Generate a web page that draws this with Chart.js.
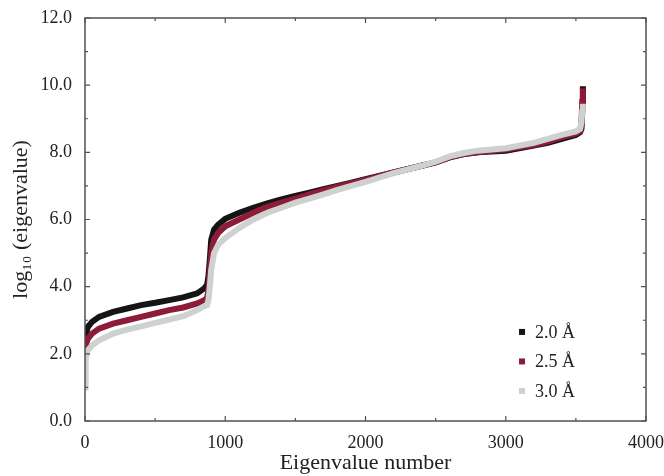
<!DOCTYPE html>
<html>
<head>
<meta charset="utf-8">
<script src="https://cdn.jsdelivr.net/npm/chart.js@4.4.1/dist/chart.umd.min.js"></script>
<style>
html, body { margin: 0; padding: 0; overflow: hidden; background: #fff; }
#wrap { width: 690px; height: 476px; }
</style>
</head>
<body>
<div id="wrap"><canvas id="my_Chart" width="690" height="476"></canvas></div>
<script>
// eigenvalue index (sampled along the sorted spectrum)
var eigIndex = [0, 5, 20, 50, 100, 200, 300, 400, 500, 600, 700, 800, 850, 870, 880, 890, 900, 920, 950,
	1000, 1100, 1200, 1300, 1400, 1500, 1600, 1700, 1800, 1900, 2000, 2200, 2400, 2500, 2600, 2700, 2800,
	3000, 3200, 3300, 3400, 3500, 3530, 3540, 3545, 3550];

// log10(eigenvalue) per resolution
var logEig20 = [2.2, 2.55, 2.8, 2.95, 3.1, 3.25, 3.35, 3.45, 3.52, 3.6, 3.68, 3.8, 3.95, 4.05, 4.3, 4.8, 5.4, 5.7, 5.85,
	6.02, 6.2, 6.35, 6.48, 6.6, 6.7, 6.8, 6.9, 7.0, 7.1, 7.2, 7.4, 7.6, 7.7, 7.85, 7.95, 8.0,
	8.05, 8.2, 8.28, 8.4, 8.52, 8.6, 8.7, 9.3, 9.97];
var logEig25 = [2.0, 2.25, 2.45, 2.6, 2.75, 2.9, 3.0, 3.1, 3.2, 3.3, 3.38, 3.5, 3.6, 3.65, 3.9, 4.4, 5.0, 5.4, 5.6,
	5.8, 6.0, 6.2, 6.38, 6.5, 6.62, 6.75, 6.87, 6.98, 7.08, 7.18, 7.4, 7.6, 7.7, 7.85, 7.95, 8.0,
	8.08, 8.22, 8.32, 8.45, 8.56, 8.62, 8.8, 9.5, 9.9];
var logEig30 = [1.0, 1.85, 2.1, 2.25, 2.4, 2.6, 2.72, 2.82, 2.92, 3.02, 3.12, 3.3, 3.42, 3.45, 3.6, 4.0, 4.5, 5.0, 5.25,
	5.45, 5.75, 6.0, 6.2, 6.35, 6.5, 6.62, 6.75, 6.88, 7.0, 7.12, 7.38, 7.6, 7.72, 7.88, 7.98, 8.05,
	8.12, 8.28, 8.4, 8.52, 8.62, 8.7, 8.9, 9.2, 9.45];

var seriesLabels = ['2.0 Å', '2.5 Å', '3.0 Å'];
var seriesColors = ['#151515', '#8e1b38', '#cdd1d0'];

var serif = "'Liberation Serif', 'Times New Roman', serif";

function toPoints(ys){
	return eigIndex.map(function(x, i){ return {x: x, y: ys[i]}; });
}

function makeSet(i, ys, order){
	return {
		label: seriesLabels[i],
		data: toPoints(ys),
		showLine: true,
		borderColor: seriesColors[i],
		backgroundColor: seriesColors[i],
		borderWidth: 6,
		pointRadius: 0,
		tension: 0,
		order: order
	};
}

// frame box + inward ticks on all four sides
var frameTicks = {
	id: 'frameTicks',
	afterDraw: function(chart){
		var ctx = chart.ctx, ca = chart.chartArea;
		var xs = chart.scales.x, ys = chart.scales.y;
		ctx.save();
		ctx.strokeStyle = '#4d5353';
		ctx.lineWidth = 1.5;
		ctx.strokeRect(ca.left, ca.top, ca.right - ca.left, ca.bottom - ca.top);
		ctx.lineWidth = 1.2;
		ctx.beginPath();
		var xv = xs.ticks.map(function(t){ return t.value; });
		for (var i = 0; i < xv.length; i++) {
			var px = xs.getPixelForValue(xv[i]);
			ctx.moveTo(px, ca.bottom); ctx.lineTo(px, ca.bottom - 5);
			ctx.moveTo(px, ca.top); ctx.lineTo(px, ca.top + 5);
			if (i < xv.length - 1) {
				var pm = xs.getPixelForValue((xv[i] + xv[i + 1]) / 2);
				ctx.moveTo(pm, ca.bottom); ctx.lineTo(pm, ca.bottom - 3);
				ctx.moveTo(pm, ca.top); ctx.lineTo(pm, ca.top + 3);
			}
		}
		var yv = ys.ticks.map(function(t){ return t.value; });
		for (var j = 0; j < yv.length; j++) {
			var py = ys.getPixelForValue(yv[j]);
			ctx.moveTo(ca.left, py); ctx.lineTo(ca.left + 5, py);
			ctx.moveTo(ca.right, py); ctx.lineTo(ca.right - 5, py);
			if (j < yv.length - 1) {
				var qm = ys.getPixelForValue((yv[j] + yv[j + 1]) / 2);
				ctx.moveTo(ca.left, qm); ctx.lineTo(ca.left + 3, qm);
				ctx.moveTo(ca.right, qm); ctx.lineTo(ca.right - 3, qm);
			}
		}
		ctx.stroke();
		ctx.restore();
	}
};

// legend drawn inside the plot, lower right
var insideLegend = {
	id: 'insideLegend',
	afterDraw: function(chart){
		var ctx = chart.ctx, ca = chart.chartArea;
		var w = ca.right - ca.left, h = ca.bottom - ca.top;
		var x0 = ca.left + 0.779 * w;
		var y0 = ca.top + 0.779 * h;
		ctx.save();
		ctx.font = '18px ' + serif;
		ctx.textBaseline = 'middle';
		chart.data.datasets.forEach(function(ds, i){
			var y = y0 + i * 29.5;
			ctx.fillStyle = ds.borderColor;
			ctx.fillRect(x0 - 3, y - 3, 6, 6);
			ctx.fillStyle = '#222';
			ctx.fillText(ds.label, x0 + 13, y + 1);
		});
		ctx.restore();
	}
};

new Chart(document.getElementById('my_Chart'), {
	type: 'scatter',
	data: {
		datasets: [
			makeSet(0, logEig20, 3),
			makeSet(1, logEig25, 2),
			makeSet(2, logEig30, 1)
		]
	},
	options: {
		responsive: false,
		animation: false,
		layout: { padding: { top: 18, right: 44, left: 0, bottom: 0 } },
		plugins: {
			legend: { display: false },
			tooltip: { enabled: false }
		},
		scales: {
			x: {
				type: 'linear',
				min: 0,
				max: 4000,
				afterFit: function(s){ s.height = 55; },
				grid: { display: false },
				border: { display: false },
				ticks: {
					stepSize: 1000,
					padding: 3,
					maxRotation: 0,
					color: '#222',
					font: { family: serif, size: 18 },
					callback: function(v){ return String(v); }
				},
				title: {
					display: true,
					text: 'Eigenvalue number',
					color: '#222',
					font: { family: serif, size: 22 },
					padding: { top: 0, bottom: 0 }
				}
			},
			y: {
				min: 0,
				max: 12,
				afterFit: function(s){ s.width = 85; },
				grid: { display: false },
				border: { display: false },
				ticks: {
					stepSize: 2,
					padding: 5,
					color: '#222',
					font: { family: serif, size: 18 },
					callback: function(v){ return v.toFixed(1); }
				},
				title: {
					display: true,
					text: 'log\u2081\u2080 (eigenvalue)',
					color: '#222',
					font: { family: serif, size: 22 },
					padding: { top: 8, bottom: 0 }
				}
			}
		}
	},
	plugins: [frameTicks, insideLegend]
});
</script>
</body>
</html>
